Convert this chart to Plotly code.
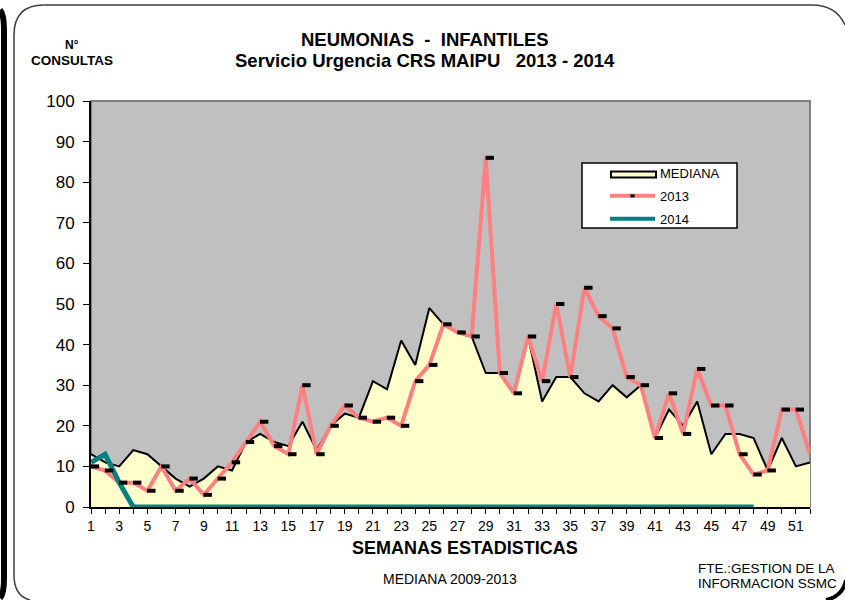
import plotly.graph_objects as go

# Weekly pneumonia consultations, children's emergency service
semanas = list(range(1, 53))
mediana = [13, 11, 10, 14, 13, 10, 7, 5, 7, 10,
           9, 16, 18, 16, 15, 21, 14, 20, 23, 22,
           31, 29, 41, 35, 49, 45, 43, 42, 33, 33,
           28, 42, 26, 32, 32, 28, 26, 30, 27, 30,
           17, 24, 20, 26, 13, 18, 18, 17, 9, 17,
           10, 11]
casos_2013 = [10, 9, 6, 6, 4, 10, 4, 7, 3, 7,
              11, 16, 21, 15, 13, 30, 13, 20, 25, 22,
              21, 22, 20, 31, 35, 45, 43, 42, 86, 33,
              28, 42, 31, 50, 32, 54, 47, 44, 32, 30,
              17, 28, 18, 34, 25, 25, 13, 8, 9, 24,
              24, 13]
semanas_2014 = list(range(1, 49))
casos_2014 = [11, 13, 6] + [0] * 45
tick_labels = [str(s) if s % 2 == 1 else "" for s in semanas]

W, H = 845, 600
L, R, T, B = 91, 35, 101, 93
PW, PH = W - L - R, H - T - B


def px(x):
    return (x - L) / PW


def py(y):
    return (H - B - y) / PH


FONT = "Liberation Sans, Arial, sans-serif"
AMARILLO, ROSA, VERDE = "#FFFFCC", "#FF8080", "#008080"

fig = go.Figure()
# data traces
fig.add_trace(go.Scatter(
    x=semanas, y=mediana, name="MEDIANA", mode="lines",
    fill="tozeroy", fillcolor=AMARILLO, showlegend=False,
    line=dict(color="black", width=2), cliponaxis=False))
fig.add_trace(go.Scatter(
    x=semanas, y=casos_2013, name="2013", mode="lines", showlegend=False,
    line=dict(color=ROSA, width=4), cliponaxis=False))
# dash markers sit just right of each weekly point
fig.add_trace(go.Scatter(
    x=semanas, y=casos_2013, name="2013", mode="markers", showlegend=False,
    xaxis="x2",
    marker=dict(symbol="line-ew", size=6, color="black",
                line=dict(color="black", width=4)),
    cliponaxis=False))
fig.add_trace(go.Scatter(
    x=semanas_2014, y=casos_2014, name="2014", mode="lines", showlegend=False,
    line=dict(color=VERDE, width=5), cliponaxis=False))

# legend entries
fig.add_trace(go.Scatter(
    x=[None], y=[None], name="MEDIANA", mode="lines", legendgroup="a",
    line=dict(color="rgba(0,0,0,0)", width=0)))
fig.add_trace(go.Scatter(
    x=[None], y=[None], name="2013", mode="lines+markers", legendgroup="b",
    line=dict(color=ROSA, width=4),
    marker=dict(symbol="line-ew", size=3, color="black",
                line=dict(color="black", width=3))))
fig.add_trace(go.Scatter(
    x=[None], y=[None], name="2014", mode="lines", legendgroup="c",
    line=dict(color=VERDE, width=4)))

shapes = [
    # plot border (top/right grey)
    dict(type="rect", xref="paper", yref="paper", x0=0, y0=0, x1=1, y1=1,
         line=dict(color="#808080", width=2), layer="below"),
    # legend box
    dict(type="rect", xref="paper", yref="paper",
         x0=px(582), x1=px(737), y0=py(228), y1=py(163),
         fillcolor="white", line=dict(color="black", width=1.5)),
    # MEDIANA legend swatch
    dict(type="rect", xref="paper", yref="paper",
         x0=px(611), x1=px(656), y0=py(177.5), y1=py(171.5),
         fillcolor=AMARILLO, line=dict(color="black", width=2)),
    # chart frame
    dict(type="path", xref="paper", yref="paper",
         path=(f"M {px(14)},{py(575)} L {px(14)},{py(35)} "
               f"Q {px(14)},{py(5)} {px(44)},{py(5)} "
               f"L {px(812)},{py(5)} Q {px(836)},{py(5)} {px(845)},{py(25)}"),
         line=dict(color="#404040", width=1.5)),
    dict(type="path", xref="paper", yref="paper",
         path=(f"M {px(14)},{py(575)} Q {px(14)},{py(596)} {px(30)},{py(600)}"),
         line=dict(color="#404040", width=1.5)),
    # neighbouring frame edges
    dict(type="path", xref="paper", yref="paper",
         path=(f"M {px(0)},{py(10)} Q {px(4)},{py(14)} {px(4)},{py(30)} "
               f"L {px(4)},{py(578)} Q {px(4)},{py(594)} {px(0)},{py(598)}"),
         line=dict(color="black", width=6)),
    dict(type="path", xref="paper", yref="paper",
         path=f"M {px(826)},{py(600)} Q {px(843)},{py(596)} {px(846)},{py(580)}",
         line=dict(color="black", width=4)),
]

annotations = [
    dict(text="<b>NEUMONIAS  -  INFANTILES</b>", x=px(425), y=py(40),
         font=dict(size=18.5)),
    dict(text="<b>Servicio Urgencia CRS MAIPU   2013 - 2014</b>", x=px(425), y=py(61),
         font=dict(size=18.5)),
    dict(text="<b>N°</b>", x=px(72), y=py(45), font=dict(size=12)),
    dict(text="<b>CONSULTAS</b>", x=px(72), y=py(61), font=dict(size=13.5)),
    dict(text="<b>SEMANAS ESTADISTICAS</b>", x=px(465), y=py(548),
         font=dict(size=18)),
    dict(text="MEDIANA 2009-2013", x=px(450), y=py(579), font=dict(size=14)),
    dict(text="FTE.:GESTION DE LA", x=px(696), y=py(568), xanchor="left",
         font=dict(size=13.5)),
    dict(text="INFORMACION SSMC", x=px(696), y=py(583), xanchor="left",
         font=dict(size=13.5)),
]
for a in annotations:
    a.update(xref="paper", yref="paper", showarrow=False, yanchor="middle",
             xanchor=a.get("xanchor", "center"))
    a["font"].update(family=FONT, color="black")

fig.update_layout(
    width=W, height=H,
    margin=dict(l=L, r=R, t=T, b=B),
    paper_bgcolor="white", plot_bgcolor="#C0C0C0",
    font=dict(family=FONT, color="black"),
    showlegend=True,
    legend=dict(x=px(605), y=py(158), xanchor="left", yanchor="top",
                bgcolor="rgba(0,0,0,0)", font=dict(size=13, family=FONT),
                itemwidth=45, tracegroupgap=3),
    shapes=shapes, annotations=annotations,
    xaxis=dict(range=[1, 52], tickmode="array", tickvals=semanas,
               ticktext=tick_labels, ticks="outside", ticklen=5,
               tickcolor="black", showline=True, linecolor="black",
               linewidth=2, showgrid=False, zeroline=False,
               tickfont=dict(size=14), fixedrange=True),
    xaxis2=dict(range=[0.72, 51.72], overlaying="x", visible=False,
                fixedrange=True),
    yaxis=dict(range=[0, 100], dtick=10, ticks="outside", ticklen=6,
               tickcolor="black", showline=True, linecolor="black",
               linewidth=2, showgrid=False, zeroline=False,
               ticklabelstandoff=5,
               tickfont=dict(size=17), fixedrange=True),
)

fig.write_html("out.html")
